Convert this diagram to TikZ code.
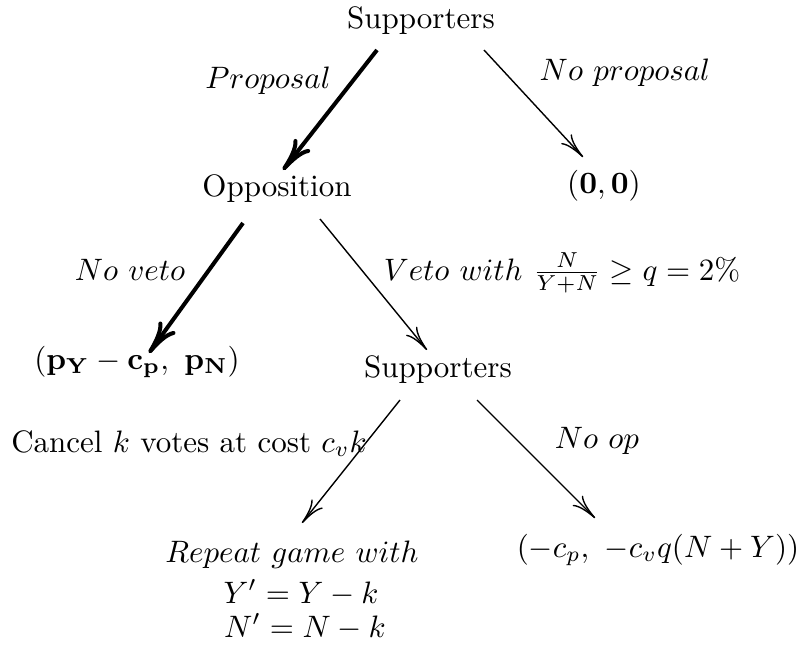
\documentclass[tikz,border=0pt]{standalone}
\usetikzlibrary{calc,arrows.meta}
\begin{document}
\begin{tikzpicture}[x=0.3226pt,y=-0.3226pt,
  lbl/.style={anchor=base,inner sep=0pt},
  thinarr/.style={-{Computer Modern Rightarrow[length=8pt,width=4.6pt]},line width=0.45pt},
  thickarr/.style={-{Computer Modern Rightarrow[length=10.5pt,width=6.5pt]},line width=1.3pt}]
\useasboundingbox (0,0) rectangle (799,657);
% nodes
\node[lbl] (s1) at (421,28) {Supporters};
\node[lbl] (opp) at (277,196) {Opposition};
\node[lbl] (zero) at (604,193) {$(\mathbf{0},\mathbf{0})$};
\node[lbl] (pay1) at (137,369) {$(\mathbf{p_Y-c_p},\ \mathbf{p_N})$};
\node[lbl] (s2) at (438,377) {Supporters};
\node[lbl] (rep) at (292,562) {$Repeat\ game\ with$};
\node[lbl] (ynew) at (301,603) {$Y'=Y-k$};
\node[lbl] (nnew) at (305,637) {$N'=N-k$};
\node[lbl] (pay3) at (658,557) {$(-c_p,\ -c_vq(N+Y))$};
% labels
\node[lbl] (lprop) at (268,88) {$Proposal$};
\node[lbl] (lnoprop) at (625,80) {$No\ proposal$};
\node[lbl] (lnoveto) at (130,280) {$No\ veto$};
\node[lbl] (lveto) at (562,280) {$Veto\ with\ \frac{N}{Y+N}\geq q=2\%$};
\node[lbl] (lcancel) at (189,452) {Cancel $k$ votes at cost $c_vk$};
\node[lbl] (lnoop) at (597,448) {$No\ op$};
% connectors
\draw[thickarr] ($(s1.base)+(-44,22)$) -- ($(opp.base)+(6,-26)$);
\draw[thinarr] ($(s1.base)+(63,22)$) -- ($(zero.base)+(-21,-36)$);
\draw[thickarr] ($(opp.base)+(-34,27)$) -- ($(pay1.base)+(12,-16)$);
\draw[thinarr] ($(opp.base)+(43,23)$) -- ($(s2.base)+(-11,-27)$);
\draw[thinarr] ($(s2.base)+(-38,23)$) -- ($(rep.base)+(10,-39)$);
\draw[thinarr] ($(s2.base)+(39,23)$) -- ($(pay3.base)+(-63,-39)$);
\end{tikzpicture}
\end{document}
